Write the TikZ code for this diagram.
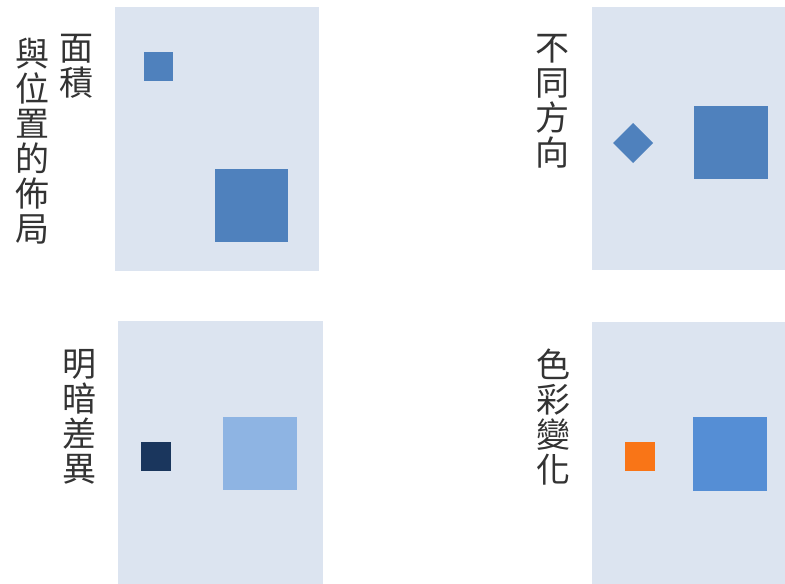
\documentclass[tikz,border=0pt]{standalone}
\usepackage{fontspec}
\newfontfamily\cjk{Noto Sans CJK TC}
\definecolor{panelbg}{HTML}{DCE4F0}
\definecolor{midblue}{HTML}{4F81BD}
\definecolor{darkblue}{HTML}{1A365D}
\definecolor{lightblue}{HTML}{8EB4E3}
\definecolor{brightblue}{HTML}{558ED5}
\definecolor{orng}{HTML}{F97517}
\tikzset{
  panel/.style={fill=panelbg, draw=none},
  shapefill/.style={draw=none},
  vtext/.style={font=\cjk\fontsize{34}{35}\selectfont, align=center, inner sep=0pt, anchor=north, text=black!80}
}
\begin{document}
\begin{tikzpicture}[x=1pt,y=-1pt]
\useasboundingbox (0,0) rectangle (785,584);
% panels
\path[panel] (115,7) rectangle (319,271);
\path[panel] (592,7) rectangle (785,270);
\path[panel] (118,321) rectangle (323,584);
\path[panel] (592,322) rectangle (785,584);
% panel 1
\path[shapefill, fill=midblue] (144,52) rectangle (173,81);
\path[shapefill, fill=midblue] (215,169) rectangle (288,242);
\node[vtext] (t1a) at (76,34) {面\\積};
\node[vtext] (t1b) at (33,38) {與\\位\\置\\的\\佈\\局};
% panel 2
\path[shapefill, fill=midblue] (633,123) -- (653,143) -- (633,163) -- (613,143) -- cycle;
\path[shapefill, fill=midblue] (694,106) rectangle (768,179);
\node[vtext] (t2) at (552,34) {不\\同\\方\\向};
% panel 3
\path[shapefill, fill=darkblue] (141,442) rectangle (171,471);
\path[shapefill, fill=lightblue] (223,417) rectangle (297,490);
\node[vtext] (t3) at (79,349) {明\\暗\\差\\異};
% panel 4
\path[shapefill, fill=orng] (625,442) rectangle (655,471);
\path[shapefill, fill=brightblue] (693,417) rectangle (767,491);
\node[vtext] (t4) at (553,349) {色\\彩\\變\\化};
\end{tikzpicture}
\end{document}
